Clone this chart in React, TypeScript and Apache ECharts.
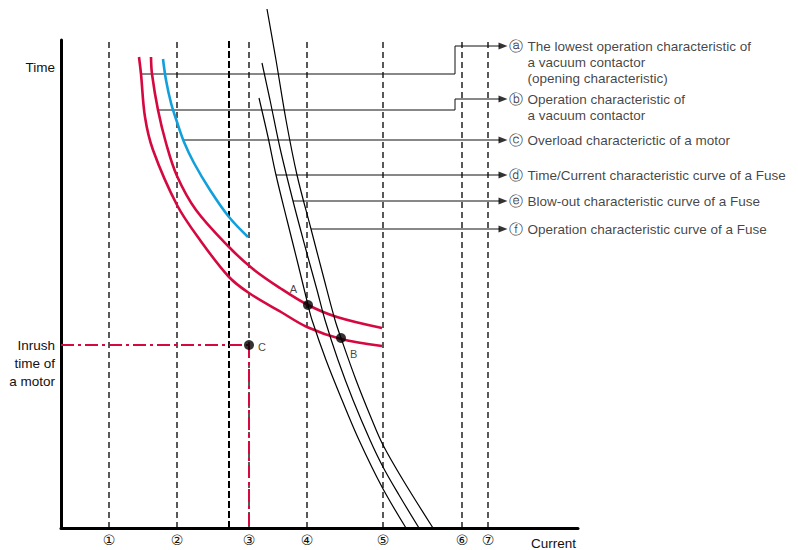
import React, { useEffect, useRef } from "react";
import * as echarts from "echarts";

// ---- Data (axis units: current 0..517, time 0..488) ----
const guideLines = [48, 116, 168, 188, 246, 322, 401, 427];
const tickValues = [48, 116, 188, 246, 322, 401, 427];
const tickLabels = ["①", "②", "③", "④", "⑤", "⑥", "⑦"];
const yLabelValues = [461, 165];
const yLabelTexts = ["Time", "Inrush\ntime of\na motor"];

const vcLowest = [[78, 471], [80, 454], [84, 411], [92, 378], [116, 323], [139, 288], [168, 251], [188, 235], [220, 216], [246, 201], [280, 189], [321, 182]];
const vcOperation = [[90, 471], [91, 454], [97, 418], [105, 385], [116, 352], [135, 318], [168, 281], [192, 259], [219, 240], [247, 223], [276, 211], [321, 200]];
const motorOverload = [[102, 469], [105, 448], [110, 425], [116, 406], [123, 386], [133, 365], [149, 338], [168, 311], [187, 291]];
const fuseTimeCurrent = [[198, 430], [207, 391], [215, 353], [226, 308], [237, 264], [247, 223], [251, 208], [265, 168], [281, 128], [298, 88], [321, 41], [345, 0]];
const fuseBlowOut = [[201, 465], [209, 428], [219, 380], [232, 327], [245, 278], [256, 238], [264, 208], [277, 168], [292, 128], [309, 88], [322, 61], [338, 33], [358, 0]];
const fuseOperation = [[206, 519], [215, 468], [225, 408], [236, 353], [250, 299], [262, 253], [274, 208], [280, 190], [295, 148], [311, 108], [322, 83], [342, 48], [372, 0]];

const inrushH = [[0, 183], [188, 183]];
const inrushV = [[188, 183], [188, 0]];
const pointA = [247, 223];
const pointB = [280, 190];
const pointC = [188, 183];

const leaders = [
  [[80, 454], [394, 454], [394, 482], [439, 482]],
  [[97, 418], [394, 418], [394, 429], [439, 429]],
  [[122, 388], [439, 388]],
  [[215, 353], [439, 353]],
  [[232, 327], [439, 327]],
  [[250, 299], [439, 299]],
];
const arrowTips = [[442, 482], [442, 429], [442, 388], [442, 353], [442, 327], [442, 299]];
const legendKeys = ["ⓐ", "ⓑ", "ⓒ", "ⓓ", "ⓔ", "ⓕ"];
const legendTexts = [
  ["The lowest operation characteristic of", "a vacuum contactor", "(opening characteristic)"],
  ["Operation characteristic of", "a vacuum contactor"],
  ["Overload characterictic of a motor"],
  ["Time/Current characteristic curve of a Fuse"],
  ["Blow-out characteristic curve of a Fuse"],
  ["Operation characteristic curve of a Fuse"],
];

const RED = "#d5083f";
const BLUE = "#12a0dc";
const FONT = "'Liberation Sans', Arial, sans-serif";

function buildOption(): any {
  const series: any[] = [];
  guideLines.forEach((x) => {
    const heavy = x === 168;
    series.push({
      type: "line",
      data: [[x, 0], [x, heavy ? 489 : 486]],
      symbol: "none",
      clip: false,
      silent: true,
      lineStyle: { color: "#000", width: heavy ? 2 : 1.3, type: heavy ? [7, 3] : [6, 4] },
      z: 1,
    });
  });
  const curve = (data: number[][], color: string, width: number) => ({
    type: "line",
    data,
    symbol: "none",
    smooth: 0.35,
    clip: false,
    lineStyle: { color, width },
    z: 3,
  });
  series.push(curve(vcLowest, RED, 2.6));
  series.push(curve(vcOperation, RED, 2.6));
  series.push(curve(motorOverload, BLUE, 2.6));
  series.push(curve(fuseTimeCurrent, "#000", 1.2));
  series.push(curve(fuseBlowOut, "#000", 1.2));
  series.push(curve(fuseOperation, "#000", 1.2));
  [inrushH, inrushV].forEach((d) =>
    series.push({
      type: "line",
      data: d,
      symbol: "none",
      clip: false,
      lineStyle: { color: RED, width: 2, type: [13, 4, 3, 4] },
      z: 2,
    })
  );
  leaders.forEach((d) =>
    series.push({
      type: "line",
      data: d,
      symbol: "none",
      clip: false,
      lineStyle: { color: "#111", width: 1 },
      z: 2,
    })
  );
  series.push({
    type: "scatter",
    data: arrowTips.map((p, i) => ({ value: p, idx: i })),
    symbol: "triangle",
    symbolRotate: -90,
    symbolSize: [7, 9],
    itemStyle: { color: "#000" },
    z: 5,
    label: {
      show: true,
      position: "right",
      distance: 1,
      verticalAlign: "top",
      offset: [0, -8],
      formatter: (p: any) => {
        const i = p.data.idx;
        return legendTexts[i]
          .map((t, j) => (j === 0 ? `{c|${legendKeys[i]}}{t|${t}}` : `{s| }{t|${t}}`))
          .join("\n");
      },
      rich: {
        c: { fontFamily: "DejaVu Sans", fontSize: 14, width: 19, color: "#111", lineHeight: 16 },
        s: { width: 19, lineHeight: 16 },
        t: { fontFamily: FONT, fontSize: 13.5, color: "#111", lineHeight: 16 },
      },
    },
  });
  series.push({
    type: "scatter",
    data: [
      { value: pointA, name: "A", label: { position: "left", offset: [-2, -16] } },
      { value: pointB, name: "B", label: { position: "right", offset: [0, 16] } },
      { value: pointC, name: "C", label: { position: "right", offset: [0, 2] } },
    ],
    symbol: "circle",
    symbolSize: 10,
    itemStyle: { color: "#000" },
    z: 6,
    label: {
      show: true,
      formatter: "{b}",
      fontFamily: FONT,
      fontSize: 11,
      color: "#111",
      distance: 4,
    },
  });

  return {
    animation: false,
    backgroundColor: "#fff",
    grid: { left: 61, right: 220, top: 40, bottom: 22, containLabel: false },
    xAxis: {
      type: "value",
      min: 0,
      max: 517,
      name: "Current",
      nameLocation: "end",
      nameGap: 0,
      nameTextStyle: { fontFamily: FONT, fontSize: 13.5, color: "#111", align: "right", verticalAlign: "top", padding: [8, 2, 0, 0] },
      axisLine: { show: true, lineStyle: { color: "#000", width: 3 } },
      axisTick: { show: false },
      splitLine: { show: false },
      axisLabel: {
        customValues: tickValues,
        formatter: (v: number) => tickLabels[tickValues.indexOf(v)] ?? "",
        fontFamily: "DejaVu Sans",
        fontSize: 14,
        color: "#111",
        margin: 5,
      },
    },
    yAxis: {
      type: "value",
      min: 0,
      max: 488,
      axisLine: { show: true, lineStyle: { color: "#000", width: 3 } },
      axisTick: { show: false },
      splitLine: { show: false },
      axisLabel: {
        customValues: yLabelValues,
        formatter: (v: number) => yLabelTexts[yLabelValues.indexOf(v)] ?? "",
        fontFamily: FONT,
        fontSize: 13.5,
        lineHeight: 18,
        color: "#111",
        margin: 6,
        align: "right",
      },
    },
    series,
  };
}

export default function App() {
  const ref = useRef<HTMLDivElement>(null);
  useEffect(() => {
    if (!ref.current) return;
    const chart = echarts.init(ref.current, null, { renderer: "svg" });
    chart.setOption(buildOption());
    return () => chart.dispose();
  }, []);
  return <div ref={ref} style={{ position: "absolute", left: 0, top: 0, width: 798, height: 550 }} />;
}
